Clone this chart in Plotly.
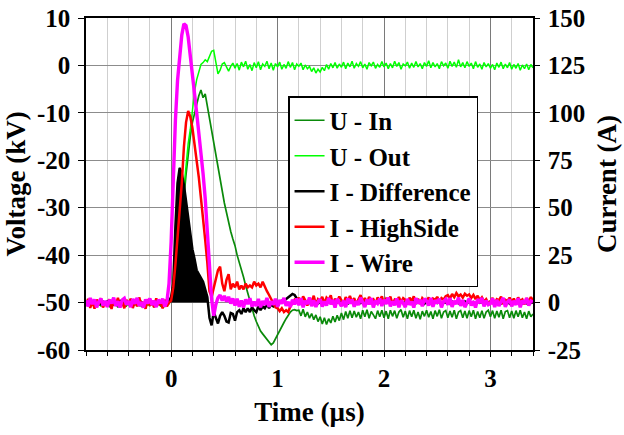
import plotly.graph_objects as go

# Sampling instants of the recorded traces (µs), 20 ns apart
t_us = [round(-0.8 + 0.02 * k, 2) for k in range(211)]

# Voltages (kV)
u_in_kv = [
    -50.3, -49.8, -50.6, -50.1, -50.9, -49.9, -50.4, -50.7, -50.0, -50.5,
    -50.2, -50.8, -49.9, -50.5, -50.3, -51.0, -50.1, -50.6, -50.2, -50.7,
    -50.0, -50.5, -50.9, -50.2, -50.6, -50.1, -50.8, -50.3, -50.5, -50.0,
    -50.6, -50.2, -50.9, -50.4, -50.1, -50.7, -50.3, -50.8, -50.4, -50.2,
    -49.5, -47.0, -44.0, -40.5, -36.5, -32.5, -28.0, -23.0, -18.5, -15.0,
    -12.0, -10.0, -8.0, -6.4, -5.2, -6.8, -6.0, -8.6, -10.6, -13.4,
    -16.0, -18.6, -21.0, -24.0, -26.4, -29.0, -31.0, -33.2, -35.0, -36.6,
    -38.0, -40.0, -41.4, -43.0, -44.6, -46.4, -48.0, -49.8, -51.4, -52.8,
    -54.0, -55.2, -56.0, -56.6, -57.2, -57.6, -58.3, -58.9, -58.5, -57.6,
    -56.6, -55.8, -55.0, -54.2, -53.4, -52.6, -52.0, -51.6, -51.5, -51.7,
    -51.6, -52.8, -51.4, -53.0, -52.0, -53.3, -52.3, -53.6, -52.6, -54.0,
    -53.0, -54.5, -53.2, -54.6, -53.4, -54.3, -52.9, -54.1, -52.7, -53.8,
    -52.2, -53.6, -51.9, -53.3, -51.7, -53.2, -51.8, -53.1, -52.0, -53.4,
    -51.6, -53.0, -51.5, -53.3, -51.9, -52.6, -53.4, -51.7, -53.0, -51.6,
    -53.2, -51.8, -53.4, -51.6, -52.9, -51.7, -53.3, -52.0, -51.5, -53.1,
    -51.8, -53.4, -51.7, -53.0, -51.6, -53.3, -52.0, -53.5, -51.8, -52.9,
    -51.6, -53.1, -51.9, -53.4, -51.7, -52.9, -51.5, -53.3, -52.0, -51.7,
    -53.2, -51.8, -53.1, -51.6, -53.4, -52.0, -51.7, -53.2, -51.8, -53.3,
    -51.7, -53.0, -51.6, -53.4, -51.9, -53.2, -51.7, -53.3, -52.0, -51.6,
    -53.0, -51.7, -53.3, -51.8, -53.1, -51.6, -53.4, -51.9, -51.7, -53.2,
    -51.8, -53.3, -51.7, -53.0, -51.6, -53.2, -52.0, -53.4, -51.8, -53.0,
    -52.4,
]

u_out_kv = [
    -50.1, -50.6, -49.8, -50.4, -50.2, -50.8, -50.0, -50.5, -50.3, -49.9,
    -50.4, -50.1, -50.7, -50.2, -50.5, -49.9, -50.6, -50.3, -50.0, -50.4,
    -50.6, -50.2, -50.0, -50.5, -50.3, -50.7, -50.1, -50.4, -50.2, -50.6,
    -50.3, -50.5, -50.1, -50.6, -50.2, -50.4, -50.0, -50.5, -50.3, -50.1,
    -49.5, -47.0, -44.0, -40.0, -35.0, -30.0, -25.0, -20.0, -16.5, -13.5,
    -9.0, -5.5, -3.0, -1.2, 0.2, 0.6, 1.2, 0.8, 1.8, 3.0,
    3.2, 0.8, -1.8, -1.0, 0.3, 0.6, -0.4, -1.2, -0.2, 0.5,
    -0.6, 0.4, -1.0, 0.7, -0.3, 0.9, -0.8, 0.2, -1.1, 0.6,
    -0.5, 0.8, -0.9, 0.3, -0.2, 0.9, -0.7, 0.5, -1.0, 0.4,
    -0.3, 0.7, -0.8, 0.2, -0.6, 0.8, -0.4, 0.6, -0.9, 0.3,
    -0.2, 0.5, -0.9, 0.1, -0.7, -0.2, -1.3, -0.5, -1.6, -0.8,
    -1.4, -0.4, -1.1, 0.2, -0.8, 0.4, -0.5, 0.6, -0.6, 0.3,
    -0.4, 0.7, -0.7, 0.5, -0.3, 0.9, -0.6, 0.4, -0.2, 0.8,
    -0.5, 0.3, -0.8, 0.6, -0.1, 0.7, -0.6, 0.2, -0.4, 0.8,
    -0.3, 0.5, -0.7, 0.4, -0.5, 0.9, -0.2, 0.6, -0.8, 0.3,
    -0.1, 0.7, -0.6, 0.5, -0.4, 0.8, -0.3, 0.4, -0.7, 0.6,
    -0.2, 1.0, -0.5, 0.6, -0.3, 0.4, -0.7, 0.8, -0.1, 0.5,
    -0.6, 0.9, -0.2, 0.7, -0.4, 1.2, -0.3, 0.6, -0.5, 0.8,
    -0.2, 0.5, -0.7, 0.8, -0.4, 0.3, -0.8, 0.6, -0.3, 0.4,
    -0.6, 0.2, -0.9, 0.5, -0.4, 0.7, -0.7, 0.3, -0.5, 0.6,
    -0.8, 0.2, -0.6, 0.4, -1.0, 0.1, -0.7, 0.3, -0.9, 0.2,
    -0.5,
]

# Currents (A)
i_diff_a = [
    0.4, -0.6, 0.2, -0.3, 0.7, -0.5, 0.1, -0.8, 0.5, -0.2,
    0.6, -0.4, 0.3, -0.7, 0.2, -0.1, 0.8, -0.5, 0.4, -0.3,
    0.1, -0.6, 0.5, -0.2, 0.7, -0.4, 0.3, -0.8, 0.2, -0.1,
    0.6, -0.3, 0.4, -0.7, 0.1, -0.5, 0.8, -0.2, 0.3, 0.5,
    3, 10, 40, 63, 71, 68, 62, 53, 43, 34,
    28, 23, 17, 15, 13, 11, 7, 3, -8, -12,
    -5, -8, -11, -7, -5, -7, -10, -10.5, -5.5, -6,
    -9.5, -5, -4, -6, -3, -5, -3, -5, -2.5, -4,
    -5, -2, -4, -2, -3, -1, -3, -1, -2, -1,
    -2, 0, 1, 1, 2, 3, 4, 4.5, 4, 2,
    0.5, -0.4, 0.3, -0.6, 0.2, -0.3, 0.5, -0.2, 0.4, -0.5,
    0.2, -0.6, 0.4, -0.1, 0.6, -0.3, 0.1, -0.5, 0.3, -0.2,
    0.5, -0.4, 0.2, -0.6, 0.3, -0.1, 0.4, -0.5, 0.1, -0.3,
    0.6, -0.2, 0.3, -0.5, 0.1, -0.4, 0.5, -0.3, 0.2, -0.6,
    0.4, -0.1, 0.5, -0.4, 0.2, -0.6, 0.3, -0.2, 0.6, -0.3,
    0.1, -0.5, 0.4, -0.2, 0.6, -0.4, 0.2, -0.1, 0.3, -0.6,
    0.5, -0.3, 0.1, -0.5, 0.4, -0.2, 0.6, -0.4, 0.2, -0.1,
    0.3, -0.6, 0.5, -0.1, 0.2, -0.4, 0.4, -0.3, 0.6, -0.2,
    0.1, -0.4, 0.3, -0.6, 0.5, -0.2, 0.2, -0.5, 0.4, -0.1,
    0.6, -0.3, 0.2, -0.4, 0.1, -0.5, 0.3, -0.2, 0.5, -0.6,
    0.2, -0.1, 0.4, -0.3, 0.6, -0.5, 0.1, -0.4, 0.3, -0.2,
    0.0,
]

i_high_a = [
    -1.5, 2.0, -2.8, 0.7, -3.2, 1.6, -1.0, 2.3, -2.6, 0.4,
    -1.9, 1.8, -3.4, 1.1, -1.5, 2.5, -2.2, 0.6, -3.0, 1.4,
    -0.9, 2.1, -2.9, 1.2, -2.0, 2.7, -1.2, 0.3, -3.3, 1.8,
    -1.7, 0.9, -2.5, 2.2, -1.4, 0.5, -3.1, 1.5, -2.0, 0.0,
    1, 8, 20, 33, 47, 63, 82, 95, 101, 98,
    92, 84, 75, 66, 55, 45, 33, 21, 6, 3,
    8, 12, 17, 19, 10, 6, 12, 15, 7, 10,
    8, 11, 7, 9, 7, 10, 8, 9, 8, 11,
    9, 10, 8, 11, 8, 6, 4, 2, 0, -2.5,
    -3, -4.5, -3, -5, -4, -5, -2, 0, 1.5, 0.5,
    2.6, -0.8, 3.3, 1.2, -1.6, 2.4, 0.4, 3.6, -1.2, 1.8,
    0.8, 3.0, -0.5, 2.6, 1.4, 3.8, -1.0, 2.0, 0.6, 3.2,
    1.5, -0.7, 2.9, 0.9, 3.5, 0.2, 2.3, -1.1, 1.7, 3.9,
    0.5, 2.4, -0.4, 3.0, 1.2, 1.8, -0.8, 2.7, 0.9, 3.3,
    -0.5, 2.1, 1.0, 3.2, -0.9, 1.5, 0.6, 2.9, 0.3, 2.3,
    1.4, -0.6, 2.6, 0.8, 3.3, 0.0, 2.0, -0.8, 2.4, 1.2,
    0.9, 2.7, -0.3, 2.1, 1.4, 3.0, 0.5, 2.4, 1.5, 3.3,
    3.9, 2.1, 4.5, 2.8, 5.0, 3.3, 4.2, 2.6, 4.6, 3.6,
    4.3, 2.4, 4.0, 1.8, 3.6, 1.2, 2.7, 0.5, 1.8, -0.3,
    0.6, 2.4, -0.5, 1.8, 1.2, 3.2, -0.9, 1.5, 0.8, 2.6,
    0.3, 2.1, -0.6, 2.7, 0.9, 1.7, -1.0, 2.3, 0.5, 2.9,
    1.2,
]

i_wire_a = [
    1.2, -2.0, 2.4, -0.8, 1.7, -2.5, 0.4, 2.1, -1.6, 0.9,
    -2.3, 1.5, -0.5, 2.6, -1.9, 0.7, -2.6, 1.3, 2.2, -1.1,
    0.8, -2.4, 1.9, -0.6, 2.5, -1.7, 0.2, -2.7, 1.6, -0.4,
    2.2, -1.3, 0.9, -2.4, 1.5, -0.3, 2.0, -2.1, 0.5, 10,
    32, 70, 96, 117, 131, 141, 147, 146, 140, 131,
    120, 110, 100, 90, 79, 68, 55, 36, 18, 2,
    -7, -1, 2.5, 4, 1, 3.5, 0.5, 3, -0.5, 2.2,
    -1.5, 2.0, -2.2, 1.1, -2.6, 1.7, -0.8, 2.3, -2.1, 0.4,
    -1.8, 1.9, -2.5, 0.8, -1.3, 2.4, -2.3, 0.6, -1.1, 2.0,
    -2.2, 1.3, -0.6, 2.5, -1.7, 0.4, -2.4, 1.5, -0.9, 2.1,
    -1.4, 2.3, -2.5, 0.9, -0.7, 2.6, -1.9, 1.2, -2.3, 0.5,
    1.8, -2.1, 0.6, -1.5, 2.4, -0.9, 1.4, -2.6, 2.0, -0.3,
    -1.9, 1.0, -2.4, 2.2, -0.5, 1.6, -2.2, 0.8, -1.3, 2.5,
    0.3, -2.3, 1.7, -1.0, 2.4, -2.6, 0.9, -0.4, 2.1, -1.8,
    1.5, -0.7, 2.6, -2.0, 0.6, -1.4, 2.2, -2.5, 1.1, -0.2,
    -2.4, 1.9, -1.1, 0.5, -2.6, 2.3, -0.6, 1.4, -1.9, 2.0,
    0.8, -1.6, 2.5, -2.2, 1.2, -0.4, 2.0, -2.5, 0.6, 1.7,
    -1.2, 2.4, -2.3, 0.9, -0.8, 2.6, -1.7, 1.3, -2.4, 0.2,
    2.1, -1.5, 0.7, -2.6, 1.8, -0.3, 2.4, -2.0, 1.0, -1.1,
    -0.5, 2.2, -2.4, 1.4, -1.8, 0.6, 2.5, -2.2, 0.3, 1.6,
    -2.0, 0.9, -1.2, 2.3, -2.5, 1.1, -0.6, 2.4, -1.6, 0.8,
    0.3,
]

# Axis ticks
time_ticks = [0, 1, 2, 3]
time_tick_text = ["0", "1", "2", "3"]
volt_ticks = [-60, -50, -40, -30, -20, -10, 0, 10]
volt_tick_text = ["-60", "-50", "-40", "-30", "-20", "-10", "0", "10"]
curr_ticks = [-25, 0, 25, 50, 75, 100, 125, 150]
curr_tick_text = ["-25", "0", "25", "50", "75", "100", "125", "150"]

for series in (u_in_kv, u_out_kv, i_diff_a, i_high_a, i_wire_a):
    assert len(series) == len(t_us)


def bold(labels):
    return ["<b>%s</b>" % s for s in labels]


# Main current pulse of the difference signal, shaded down to 0 A
pulse = slice(39, 58)

FONT = "Liberation Serif, Times New Roman, serif"

fig = go.Figure()
fig.add_trace(go.Scatter(x=t_us, y=u_in_kv, name="<b>U - In</b>", mode="lines",
                         line=dict(color="#0a8a0a", width=1.7), yaxis="y"))
fig.add_trace(go.Scatter(x=t_us, y=u_out_kv, name="<b>U - Out</b>", mode="lines",
                         line=dict(color="#00ff00", width=1.5), yaxis="y"))
fig.add_trace(go.Scatter(x=t_us[pulse], y=i_diff_a[pulse], mode="lines",
                         fill="tozeroy", fillcolor="black",
                         line=dict(color="black", width=1), yaxis="y2",
                         showlegend=False, hoverinfo="skip"))
fig.add_trace(go.Scatter(x=t_us, y=i_diff_a, name="<b>I - Difference</b>", mode="lines",
                         line=dict(color="black", width=2.5), yaxis="y2"))
fig.add_trace(go.Scatter(x=t_us, y=i_high_a, name="<b>I - HighSide</b>", mode="lines",
                         line=dict(color="#ff0000", width=2.5), yaxis="y2"))
fig.add_trace(go.Scatter(x=t_us, y=i_wire_a, name="<b>I - Wire</b>", mode="lines",
                         line=dict(color="#ff00ff", width=3.4), yaxis="y2"))

tickfont = dict(family=FONT, size=25, color="black")
titlefont = dict(family=FONT, size=27, color="black")

fig.update_layout(
    width=624, height=435,
    margin=dict(l=86, r=91, t=18, b=85, autoexpand=False),
    paper_bgcolor="white", plot_bgcolor="white",
    font=dict(family=FONT, color="black"),
    xaxis=dict(
        range=[-0.8, 3.4], tickmode="array", tickvals=time_ticks, ticktext=bold(time_tick_text),
        showgrid=True, gridcolor="#7a7a7a", gridwidth=1,
        minor=dict(dtick=0.2, tick0=0, showgrid=True, gridcolor="#cfcfcf", gridwidth=1,
                   ticks="outside", ticklen=4, tickcolor="black"),
        showline=True, linecolor="black", linewidth=1.5, mirror=True,
        ticks="outside", ticklen=5, tickcolor="black", zeroline=False,
        tickfont=tickfont,
        title=dict(text="<b>Time (µs)</b>", font=titlefont, standoff=11),
    ),
    yaxis=dict(
        range=[-60, 10], tickmode="array", tickvals=volt_ticks, ticktext=bold(volt_tick_text),
        showgrid=True, gridcolor="#8c8c8c", gridwidth=1,
        showline=True, linecolor="black", linewidth=1.5,
        ticks="outside", ticklen=6, tickcolor="black", zeroline=False,
        tickfont=tickfont, ticklabelstandoff=3,
        title=dict(text="<b>Voltage (kV)</b>", font=titlefont, standoff=3),
    ),
    yaxis2=dict(
        range=[-25, 150], tickmode="array", tickvals=curr_ticks, ticktext=bold(curr_tick_text),
        overlaying="y", side="right", showgrid=False,
        showline=True, linecolor="black", linewidth=1.5,
        ticks="outside", ticklen=5, tickcolor="black", zeroline=False,
        tickfont=tickfont, ticklabelstandoff=3,
        title=dict(text="<b>Current (A)</b>", font=titlefont, standoff=13),
    ),
    legend=dict(
        x=0.452, y=0.765, xanchor="left", yanchor="top",
        bgcolor="white", bordercolor="black", borderwidth=1.5,
        font=dict(family=FONT, size=25, color="black"),
        itemwidth=30, tracegroupgap=0,
    ),
    showlegend=True,
)

fig.write_html("out.html")
